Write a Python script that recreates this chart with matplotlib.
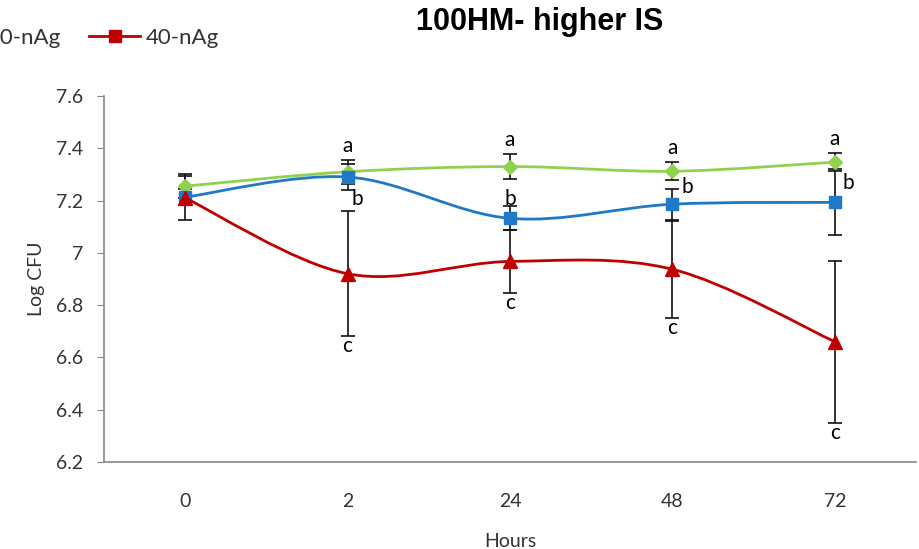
import matplotlib.pyplot as plt
import numpy as np
from matplotlib.path import Path
from matplotlib.patches import PathPatch
from matplotlib.lines import Line2D

plt.rcParams["font.family"] = ["Lato", "DejaVu Sans"]

# données
heures = ['0', '2', '24', '48', '72']
series = ['Control', '20-nAg', '40-nAg']

vert = [7.255, 7.31, 7.33, 7.312, 7.347]
vert_err = [0.045, 0.046, 0.048, 0.035, 0.035]
bleu = [7.213, 7.29, 7.132, 7.186, 7.193]
bleu_err = [0.03, 0.05, 0.046, 0.06, 0.126]
rouge = [7.21, 6.92, 6.967, 6.937, 6.66]
rouge_err = [0.085, 0.24, 0.12, 0.185, 0.31]

lettres_a = ['', 'a', 'a', 'a', 'a']
lettres_b = ['', 'b', 'b', 'b', 'b']
lettres_c = ['', 'c', 'c', 'c', 'c']

# position des lettres "b" (mise en page)
pos_b = [None, (1.06, 7.205), (2.0, 7.205), (3.09, 7.251), (4.08, 7.266)]

couleurs = ['#92D050', '#1F78C8', '#C00000']
marqueurs = ['D', 's', '^']
tailles = [7, 9, 9.5]


def courbe_lissee(ax, x, y, couleur, z):
    # segments de Bézier type Excel (Catmull-Rom)
    pts = np.column_stack([x, y]).astype(float)
    n = len(pts)
    verts = [pts[0]]
    codes = [Path.MOVETO]
    for i in range(n - 1):
        p0 = pts[max(i - 1, 0)]
        p1 = pts[i]
        p2 = pts[i + 1]
        p3 = pts[min(i + 2, n - 1)]
        c1 = p1 + (p2 - p0) / 6
        c2 = p2 - (p3 - p1) / 6
        verts += [c1, c2, p2]
        codes += [Path.CURVE4] * 3
    patch = PathPatch(Path(verts, codes), fill=False, edgecolor=couleur,
                      lw=2, zorder=z, capstyle='round')
    ax.add_patch(patch)


fig = plt.figure(figsize=(9.2, 5.49), dpi=100)
ax = fig.add_axes([0.113, 0.1585, 0.8827, 0.6667])

x = np.arange(len(heures))
donnees = [(vert, vert_err), (bleu, bleu_err), (rouge, rouge_err)]

for k, (y, e) in enumerate(donnees):
    ax.errorbar(x, y, yerr=e, fmt='none', ecolor='#111111', elinewidth=1.2,
                capsize=5, capthick=1.2, zorder=2)

for k, (y, e) in enumerate(donnees):
    courbe_lissee(ax, x, y, couleurs[k], 3 + k)
    ax.plot(x, y, ls='none', marker=marqueurs[k], ms=tailles[k],
            color=couleurs[k], zorder=3.5 + k)

# lettres
for i in range(len(heures)):
    if lettres_a[i]:
        ax.annotate(lettres_a[i], (x[i], vert[i] + vert_err[i]),
                    xytext=(0, 3), textcoords='offset points',
                    ha='center', va='bottom', fontsize=15)
    if lettres_c[i]:
        ax.annotate(lettres_c[i], (x[i], rouge[i] - rouge_err[i]),
                    xytext=(0, 0), textcoords='offset points',
                    ha='center', va='top', fontsize=15)
    if lettres_b[i]:
        ax.text(pos_b[i][0], pos_b[i][1], lettres_b[i], ha='center',
                va='center', fontsize=15, zorder=10)

ax.set_xlim(-0.5, len(heures) - 0.5)
ax.set_ylim(6.2, 7.6)
ax.set_xticks(x)
ax.set_xticklabels(heures)
ax.set_yticks(np.arange(6.2, 7.61, 0.2))
ax.set_yticklabels(['6.2', '6.4', '6.6', '6.8', '7', '7.2', '7.4', '7.6'])
ax.tick_params(axis='x', length=0, pad=22, labelsize=14, labelcolor='#333333')
ax.tick_params(axis='y', length=5, color='#888888', pad=10, labelsize=14,
               labelcolor='#333333')
for s in ['top', 'right']:
    ax.spines[s].set_visible(False)
for s in ['left', 'bottom']:
    ax.spines[s].set_color('#888888')
    ax.spines[s].set_linewidth(1.2)

ax.set_xlabel('Hours', fontsize=14, color='#333333', labelpad=17)
ax.set_ylabel('Log CFU', fontsize=14, color='#333333', labelpad=8)

fig.text(540 / 920, 1 - 22 / 549, '100HM- higher IS', ha='center',
         va='center', fontsize=22, fontweight='bold',
         family='Liberation Sans')

# légende (coupée à gauche comme l'original)
poignees = [Line2D([], [], color=couleurs[0], marker='D', ms=7, lw=2),
            Line2D([], [], color=couleurs[1], marker='s', ms=8, lw=2),
            Line2D([], [], color=couleurs[2], marker='s', ms=8, lw=2)]
fig.legend(poignees, series, ncol=3, loc='center right',
           bbox_to_anchor=(239 / 920, 1 - 38 / 549), frameon=False,
           fontsize=16, handlelength=2.3, handletextpad=0.25,
           columnspacing=1.3, labelcolor='#333333')

fig.savefig('out.png', dpi=100)
